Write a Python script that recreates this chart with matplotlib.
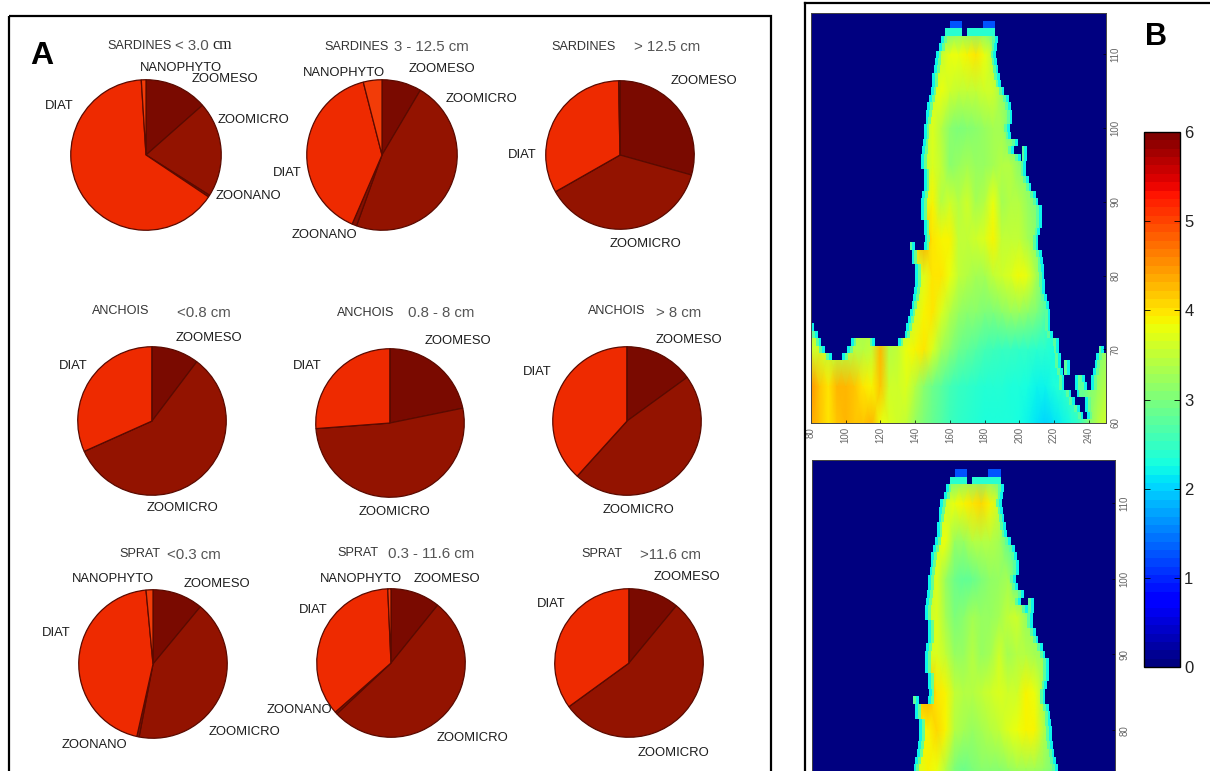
#!/usr/bin/env python3
import numpy as np
import matplotlib
matplotlib.use('Agg')
import matplotlib.pyplot as plt
from matplotlib.cm import ScalarMappable
from matplotlib.colors import Normalize
from matplotlib.lines import Line2D
from matplotlib.patches import Rectangle

plt.rcParams['font.family'] = ['Liberation Sans', 'DejaVu Sans']

W, H = 1210, 771

# diet fractions, clockwise from 12 o'clock
MESO = [13.5, 8.5, 29.4, 10.3, 21.8, 15.0, 11.0, 10.8, 11.0]
MICRO = [20.5, 47.0, 37.5, 58.0, 52.0, 46.7, 42.0, 52.2, 54.0]
NANO = [0.4, 1.0, 0.0, 0.0, 0.0, 0.0, 0.5, 0.5, 0.0]
DIAT = [64.6, 39.5, 33.0, 31.7, 26.2, 38.3, 45.0, 35.8, 35.0]
PHYTO = [1.0, 4.0, 0.3, 0.0, 0.0, 0.0, 1.5, 0.7, 0.0]
PIE_COLORS = ['#7a0a00', '#931300', '#861000', '#ee2a00', '#f23c08']

# heat map: rows from y=60 to 115 every 5, columns from x=80 to 250 every 5
GRID_X = list(range(80, 251, 5))
GRID_Y = list(range(60, 116, 5))
FIELD_TOP = [
    [4.4,4.2,4.0,4.2,4.3, 4.2,4.2,4.3,3.8,3.7, 3.6,3.5,3.2,3.0,2.85, 2.7,2.55,2.45,2.4,2.35, 2.3,2.3,2.3,2.3,2.25, 2.2,2.1,2.0,2.1,2.2, 2.3,2.5,3.0,3.4,3.6],
    [4.5,4.2,4.0,4.3,4.3, 4.2,4.0,3.9,4.2,3.6, 3.6,3.7,3.4,3.1,2.9, 2.75,2.6,2.5,2.45,2.4, 2.35,2.35,2.35,2.3,2.3, 2.25,2.2,2.2,2.3,2.4, 2.6,2.8,3.0,3.2,3.4],
    [3.6,3.6,3.5,3.4,3.4, 3.4,3.4,3.5,4.3,3.4, 3.5,3.8,3.9,4.0,3.7, 3.3,3.1,2.9,2.8,2.7, 2.6,2.55,2.5,2.5,2.45, 2.45,2.4,2.4,2.3,2.2, 2.2,2.2,2.8,3.0,3.2],
    [3.3,3.3,3.3,3.3,3.3, 3.3,3.3,3.3,3.3,3.3, 3.3,3.3,3.6,3.9,4.0, 3.7,3.4,3.2,3.1,3.1, 3.0,3.0,3.1,3.2,3.2, 3.1,3.0,2.7,2.4,2.4, 2.4,2.4,2.4,2.4,2.4],
    [3.5,3.5,3.5,3.5,3.5, 3.5,3.5,3.5,3.5,3.5, 3.5,3.5,3.5,3.7,4.0, 4.0,3.8,3.5,3.4,3.3, 3.3,3.5,3.6,3.7,3.85, 3.75,3.3,3.0,2.5,2.5, 2.5,2.5,2.5,2.5,2.5],
    [4.0,4.0,4.0,4.0,4.0, 4.0,4.0,4.0,4.0,4.0, 4.0,4.0,4.0,4.4,4.0, 3.9,3.9,3.5,3.5,3.6, 3.7,3.9,3.5,3.5,3.5, 3.3,3.1,3.0,3.0,3.0, 3.0,3.0,3.0,3.0,3.0],
    [3.6,3.6,3.6,3.6,3.6, 3.6,3.6,3.6,3.6,3.6, 3.6,3.6,3.6,3.6,3.9, 3.4,3.6,3.4,3.6,3.3, 3.4,3.8,3.3,3.4,3.4, 3.2,3.0,3.0,3.0,3.0, 3.0,3.0,3.0,3.0,3.0],
    [3.4,3.4,3.4,3.4,3.4, 3.4,3.4,3.4,3.4,3.4, 3.4,3.4,3.4,3.4,3.7, 3.5,3.1,3.2,3.3,3.2, 3.2,3.3,3.4,3.4,3.1, 3.1,3.1,3.1,3.1,3.1, 3.1,3.1,3.1,3.1,3.1],
    [3.4,3.4,3.4,3.4,3.4, 3.4,3.4,3.4,3.4,3.4, 3.4,3.4,3.4,3.4,3.7, 3.4,3.1,3.0,3.05,3.1, 3.2,3.3,3.3,2.8,2.8, 2.8,2.8,2.8,2.8,2.8, 2.8,2.8,2.8,2.8,2.8],
    [3.6,3.6,3.6,3.6,3.6, 3.6,3.6,3.6,3.6,3.6, 3.6,3.6,3.6,3.6,3.6, 3.8,3.6,3.5,3.5,3.5, 3.6,3.6,3.2,3.2,3.2, 3.2,3.2,3.2,3.2,3.2, 3.2,3.2,3.2,3.2,3.2],
    [3.5,3.5,3.5,3.5,3.5, 3.5,3.5,3.5,3.5,3.5, 3.5,3.5,3.5,3.5,3.5, 3.5,3.8,3.8,3.9,4.0, 3.8,3.4,3.4,3.4,3.4, 3.4,3.4,3.4,3.4,3.4, 3.4,3.4,3.4,3.4,3.4],
    [2.5,2.5,2.5,2.5,2.5, 2.5,2.5,2.5,2.5,2.5, 2.5,2.5,2.5,2.5,2.5, 2.5,2.5,2.7,2.7,2.7, 2.7,2.5,2.5,2.5,2.5, 2.5,2.5,2.5,2.5,2.5, 2.5,2.5,2.5,2.5,2.5],
]
FIELD_BOTTOM = [
    [4.4,4.2,4.0,4.2,4.3, 4.2,4.2,4.3,3.9,3.7, 3.6,3.5,3.3,3.1,3.0, 2.85,2.7,2.6,2.5,2.45, 2.4,2.4,2.35,2.35,2.3, 2.25,2.1,2.0,2.1,2.2, 2.3,2.5,3.0,3.4,3.6],
    [4.5,4.2,4.0,4.3,4.3, 4.2,4.0,3.9,4.2,3.6, 3.6,3.7,3.4,3.2,3.0, 2.85,2.7,2.6,2.5,2.45, 2.4,2.4,2.4,2.35,2.35, 2.3,2.2,2.2,2.3,2.4, 2.6,2.8,3.0,3.2,3.4],
    [3.6,3.6,3.5,3.4,3.4, 3.4,3.4,3.5,4.3,3.4, 3.5,3.8,3.9,4.0,3.7, 3.4,3.1,2.9,2.9,2.9, 2.9,2.9,2.8,2.8,2.8, 2.7,2.6,2.5,2.4,2.2, 2.2,2.2,2.8,3.0,3.2],
    [3.7,3.7,3.7,3.7,3.7, 3.7,3.7,3.7,3.7,3.7, 3.7,3.7,3.7,3.9,3.8, 3.4,3.0,2.9,3.0,3.1, 3.1,3.1,3.2,3.3,3.3, 3.3,3.2,3.0,2.5,2.5, 2.5,2.5,2.5,2.5,2.5],
    [3.9,3.9,3.9,3.9,3.9, 3.9,3.9,3.9,3.9,3.9, 3.9,3.9,3.9,3.9,4.1, 3.9,3.4,3.3,3.2,3.3, 3.4,3.5,3.7,3.8,3.9, 3.9,3.4,3.0,2.6,2.6, 2.6,2.6,2.6,2.6,2.6],
    [4.2,4.2,4.2,4.2,4.2, 4.2,4.2,4.2,4.2,4.2, 4.2,4.2,4.2,4.4,4.0, 3.9,3.5,3.4,3.4,3.5, 3.6,3.7,3.6,3.6,3.9, 3.8,3.3,3.0,3.0,3.0, 3.0,3.0,3.0,3.0,3.0],
    [3.6,3.6,3.6,3.6,3.6, 3.6,3.6,3.6,3.6,3.6, 3.6,3.6,3.6,3.6,3.7, 3.5,3.2,3.2,3.4,3.2, 3.3,3.6,3.3,3.4,3.4, 3.3,3.2,3.2,3.2,3.2, 3.2,3.2,3.2,3.2,3.2],
    [3.5,3.5,3.5,3.5,3.5, 3.5,3.5,3.5,3.5,3.5, 3.5,3.5,3.5,3.5,3.7, 3.3,3.0,3.1,3.3,3.2, 3.2,3.3,3.5,3.6,3.2, 3.2,3.2,3.2,3.2,3.2, 3.2,3.2,3.2,3.2,3.2],
    [3.4,3.4,3.4,3.4,3.4, 3.4,3.4,3.4,3.4,3.4, 3.4,3.4,3.4,3.4,3.7, 3.2,2.9,2.8,2.85,3.0, 3.15,3.2,3.3,2.7,2.7, 2.7,2.7,2.7,2.7,2.7, 2.7,2.7,2.7,2.7,2.7],
    [3.7,3.7,3.7,3.7,3.7, 3.7,3.7,3.7,3.7,3.7, 3.7,3.7,3.7,3.7,3.7, 3.8,3.2,3.2,3.4,3.4, 3.4,3.3,2.8,2.8,2.8, 2.8,2.8,2.8,2.8,2.8, 2.8,2.8,2.8,2.8,2.8],
    [3.6,3.6,3.6,3.6,3.6, 3.6,3.6,3.6,3.6,3.6, 3.6,3.6,3.6,3.6,3.6, 3.6,3.8,3.9,4.0,4.1, 3.9,3.5,3.5,3.5,3.5, 3.5,3.5,3.5,3.5,3.5, 3.5,3.5,3.5,3.5,3.5],
    [2.5,2.5,2.5,2.5,2.5, 2.5,2.5,2.5,2.5,2.5, 2.5,2.5,2.5,2.5,2.5, 2.5,2.5,2.7,2.7,2.7, 2.7,2.5,2.5,2.5,2.5, 2.5,2.5,2.5,2.5,2.5, 2.5,2.5,2.5,2.5,2.5],
]

# sea cells per row, rows y=60 up to y=114; anything outside these spans is land mask
MASK_ROWS = list(range(60, 115))
MASK_SPANS = [
    [(80, 250)],
    [(80, 237), (239, 250)],
    [(80, 235), (238, 250)],
    [(80, 232), (238, 250)],
    [(80, 230), (233, 250)],
    [(80, 226), (232, 239), (241.5, 250)],
    [(80, 226), (232, 238), (241.5, 250)],
    [(80, 225), (228, 229), (242.5, 250)],
    [(80, 224), (228, 229), (243.5, 250)],
    [(80, 92), (98, 224), (244.5, 250)],
    [(80, 88), (101, 223), (247, 249)],
    [(80, 86), (103, 117), (130, 222.7)],
    [(80, 84), (134, 219.4)],
    [(80, 82), (135, 218)],
    [(136, 218)],
    [(137, 218)],
    [(138, 217)],
    [(139, 216)],
    [(139.5, 215)],
    [(140, 214.6)],
    [(140, 214.5)],
    [(140, 214.2)],
    [(138, 213.8)],
    [(138, 213)],
    [(138, 140), (145, 211)],
    [(145.5, 211)],
    [(145, 212)],
    [(145, 213)],
    [(143.5, 213)],
    [(143.5, 213)],
    [(143.5, 211)],
    [(144, 209.5)],
    [(145, 207)],
    [(145, 205.5)],
    [(145, 204)],
    [(143.5, 204)],
    [(143.5, 201), (202, 204.6)],
    [(144, 197), (202, 204.6)],
    [(144.5, 199)],
    [(145, 195.4)],
    [(145, 194.4)],
    [(146, 196)],
    [(146.5, 196)],
    [(147, 195)],
    [(148, 194)],
    [(149, 191.5)],
    [(150, 189.6)],
    [(150, 188.7)],
    [(151, 188)],
    [(151.5, 187.3)],
    [(152, 186.7)],
    [(154, 187.3)],
    [(155, 187.7)],
    [(157.5, 167), (170, 186)],
    [(160, 167), (179, 186)],
]
ROW_FILLS = {114: 1.3, 113: 2.4}

TICK_VALUES_X = [80, 100, 120, 140, 160, 180, 200, 220, 240]
TICK_VALUES_Y = [60, 70, 80, 90, 100, 110]
BAR_TICKS = [0, 1, 2, 3, 4, 5, 6]

# layout, in pixels of the reference
PIE_CENTERS = [(146, 155), (382, 155), (620, 155),
               (152, 421), (390, 423), (627, 421),
               (153, 664), (391, 663), (629, 663)]
PIE_RADII = [76, 76, 75, 75, 75, 75, 75, 75, 75]
TITLES = [
    ('SARDINES', 107, 46), ('SARDINES', 324, 47), ('SARDINES', 551, 47),
    ('ANCHOIS', 92, 311), ('ANCHOIS', 337, 313), ('ANCHOIS', 588, 311),
    ('SPRAT', 119, 554), ('SPRAT', 337, 553), ('SPRAT', 581, 554),
]
SIZES = [
    ('< 3.0', 175, 46), ('3 - 12.5 cm', 394, 47), ('> 12.5 cm', 634, 47),
    ('<0.8 cm', 177, 313), ('0.8 - 8 cm', 408, 313), ('> 8 cm', 656, 313),
    ('<0.3 cm', 167, 555), ('0.3 - 11.6 cm', 388, 554), ('>11.6 cm', 640, 555),
]
LABELS = [
    ('NANOPHYTO', 140, 68), ('ZOOMESO', 192, 79), ('ZOOMICRO', 218, 120), ('DIAT', 45, 106), ('ZOONANO', 216, 196),
    ('NANOPHYTO', 303, 73), ('ZOOMESO', 409, 69), ('ZOOMICRO', 446, 99), ('DIAT', 273, 173), ('ZOONANO', 292, 235),
    ('ZOOMESO', 671, 81), ('DIAT', 508, 155), ('ZOOMICRO', 610, 244),
    ('ZOOMESO', 176, 338), ('DIAT', 59, 366), ('ZOOMICRO', 147, 508),
    ('ZOOMESO', 425, 341), ('DIAT', 293, 366), ('ZOOMICRO', 359, 512),
    ('ZOOMESO', 656, 340), ('DIAT', 523, 372), ('ZOOMICRO', 603, 510),
    ('NANOPHYTO', 72, 579), ('ZOOMESO', 184, 584), ('DIAT', 42, 633), ('ZOONANO', 62, 745), ('ZOOMICRO', 209, 732),
    ('NANOPHYTO', 320, 579), ('ZOOMESO', 414, 579), ('DIAT', 299, 610), ('ZOONANO', 267, 710), ('ZOOMICRO', 437, 738),
    ('ZOOMESO', 654, 577), ('DIAT', 537, 604), ('ZOOMICRO', 638, 753),
]

fig = plt.figure(figsize=(W / 100, H / 100), dpi=100)
cmap = plt.get_cmap('jet', 64)
norm = Normalize(0, 6)
NAVY = cmap(norm(0))


def px_axes(left, top, right, bottom, **kw):
    return fig.add_axes([left / W, 1 - bottom / H, (right - left) / W, (bottom - top) / H], **kw)


def draw_pie(i):
    cx, cy = PIE_CENTERS[i]
    r = PIE_RADII[i]
    ax = px_axes(cx - r, cy - r, cx + r, cy + r)
    vals = [MESO[i], MICRO[i], NANO[i], DIAT[i], PHYTO[i]]
    ax.pie(vals, colors=PIE_COLORS, startangle=90, counterclock=False, radius=1,
           wedgeprops={'edgecolor': '#5a0a00', 'linewidth': 0.9})
    ax.set_xlim(-1.01, 1.01)
    ax.set_ylim(-1.01, 1.01)
    ax.set_aspect('equal')


def draw_field(ax, field):
    ax.pcolormesh(GRID_X, GRID_Y, np.array(field), shading='gouraud', cmap='jet', vmin=0, vmax=6)
    for y, spans in zip(MASK_ROWS, MASK_SPANS):
        edge = 80
        for a, b in spans:
            if a > edge:
                ax.barh(y, a - edge, left=edge, height=1, color=NAVY, antialiased=False, linewidth=0)
            if y in ROW_FILLS:
                ax.barh(y, b - a, left=a, height=1, color=cmap(norm(ROW_FILLS[y])),
                        antialiased=False, linewidth=0)
            elif y > 60:
                if a > 80:
                    ax.barh(y, 1.6, left=a, height=1, color=cmap(norm(2.2)), antialiased=False, linewidth=0)
                    ax.barh(y, 1.6, left=a + 1.6, height=1, color=cmap(norm(2.9)), antialiased=False, linewidth=0)
                if b < 250:
                    ax.barh(y, 1.6, left=b - 1.6, height=1, color=cmap(norm(2.2)), antialiased=False, linewidth=0)
                    ax.barh(y, 1.6, left=b - 3.2, height=1, color=cmap(norm(2.8)), antialiased=False, linewidth=0)
            edge = b
        if edge < 250:
            ax.barh(y, 250 - edge, left=edge, height=1, color=NAVY, antialiased=False, linewidth=0)
    ax.barh(115.2, 170, left=80, height=1.4, color=NAVY, antialiased=False, linewidth=0)
    ax.set_xlim(80, 250)
    ax.yaxis.tick_right()
    ax.set_yticks(TICK_VALUES_Y)
    ax.set_xticks(TICK_VALUES_X)
    ax.tick_params(direction='in', length=2, width=0.5, labelsize=7, labelcolor='#666666', pad=3)
    for t in ax.get_yticklabels():
        t.set_rotation(90)
        t.set_va('center')
    for t in ax.get_xticklabels():
        t.set_rotation(90)
    for s in ax.spines.values():
        s.set_linewidth(0.7)
        s.set_color('#444444')


for n in range(len(MESO)):
    draw_pie(n)

ax1 = px_axes(811, 13, 1106, 423)
draw_field(ax1, FIELD_TOP)
ax1.set_ylim(60, 115.6)

ax2 = px_axes(812, 460, 1115, 771)
draw_field(ax2, FIELD_BOTTOM)
ax2.set_ylim(74.6, 115.7)
ax2.spines['bottom'].set_visible(False)
ax2.tick_params(axis='x', bottom=False, labelbottom=False)

cax = px_axes(1144, 132, 1180, 667)
cb = fig.colorbar(ScalarMappable(norm=norm, cmap=cmap), cax=cax, ticks=BAR_TICKS)
cax.tick_params(direction='in', length=4, width=0.6, left=True, right=True, labelsize=12,
                labelcolor='#222222', pad=3)
cb.outline.set_linewidth(1.0)

# frames of the two panels and all the text live on a pixel overlay
over = px_axes(0, 0, W, H, zorder=10)
over.set_xlim(0, W)
over.set_ylim(H, 0)
over.axis('off')
over.patch.set_alpha(0)
over.add_patch(Rectangle((9, 16), 762, 800, fill=False, edgecolor='black', linewidth=1.6))
over.add_line(Line2D([805, 1210], [3, 3], color='black', linewidth=1.6))
over.add_line(Line2D([805, 805], [3, 771], color='black', linewidth=1.6))

for name, x, y in TITLES:
    over.text(x, y, name, fontsize=9.1, color='#333333', va='center', ha='left')
for name, x, y in SIZES:
    over.text(x, y, name, fontsize=10.8, color='#555555', va='center', ha='left')
over.text(212, 45, 'cm', fontsize=11.5, color='#222222', va='center', ha='left',
          family='Liberation Serif')

for name, x, y in LABELS:
    over.text(x, y, name, fontsize=9.4, color='#1c1c1c', va='center', ha='left')

over.text(30, 56, 'A', fontsize=23, fontweight='bold', color='black', va='center', ha='left')
over.text(1145, 37, 'B', fontsize=22, fontweight='bold', color='black', va='center', ha='left')

fig.savefig('out.png', dpi=100)
